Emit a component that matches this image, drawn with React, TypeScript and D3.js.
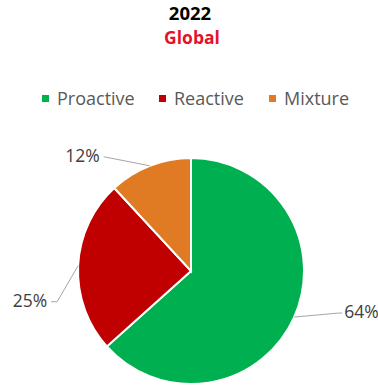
import React from "react";
import * as d3 from "d3";

const categories = ["Proactive", "Reactive", "Mixture"];
const values = [64, 25, 12];
const colors = ["#00B050", "#C00000", "#E07B24"];
const labels = ["64%", "25%", "12%"];
const title = "2022";
const subtitle = "Global";

// leader line layout: [elbowDx, elbowDy, endDx, endDy] relative to slice edge point
const leader = [
  [44, -4, 48, -4],
  [-21, 36, -27, 36],
  [-46, -9, -46, -9],
];

export default function App() {
  const W = 378, H = 385;
  const cx = 191, cy = 271, r = 113;
  const pie = d3.pie<number>().sort(null).value((d) => d);
  const arcs = pie(values);
  const arc = d3.arc<d3.PieArcDatum<number>>().innerRadius(0).outerRadius(r);
  const font = "Open Sans, Liberation Sans, sans-serif";
  const legendX = [42, 159, 269];
  return (
    <svg width={W} height={H} style={{ position: "absolute", left: 0, top: 0 }}>
      <rect width={W} height={H} fill="#fff" />
      <text x={190} y={20} textAnchor="middle" fontFamily={font} fontWeight="bold" fontSize={18.5} fill="#000">{title}</text>
      <text x={192} y={44} textAnchor="middle" fontFamily={font} fontWeight="bold" fontSize={17.5} fill="#E4112B">{subtitle}</text>
      {categories.map((c, i) => (
        <g key={c}>
          <rect x={legendX[i]} y={95} width={7} height={7} fill={colors[i]} />
          <text x={legendX[i] + 15} y={105} fontFamily={font} fontSize={18} fill="#595959">{c}</text>
        </g>
      ))}
      <g transform={`translate(${cx},${cy})`}>
        {arcs.map((a, i) => (
          <path key={i} d={arc(a) || ""} fill={colors[i]} stroke="#fff" strokeWidth={2} />
        ))}
        {arcs.map((a, i) => {
          const m = (a.startAngle + a.endAngle) / 2;
          const px = r * Math.sin(m), py = -r * Math.cos(m);
          const [ex, ey, tx, ty] = leader[i];
          const right = tx > 0;
          return (
            <g key={"l" + i}>
              <polyline points={`${px},${py} ${px + ex},${py + ey} ${px + tx},${py + ty}`} fill="none" stroke="#a6a6a6" strokeWidth={1} />
              <text x={px + tx + (right ? 2 : -4)} y={py + ty + 5} textAnchor={right ? "start" : "end"} fontFamily={font} fontSize={17.5} fill="#404040">{labels[i]}</text>
            </g>
          );
        })}
      </g>
    </svg>
  );
}
